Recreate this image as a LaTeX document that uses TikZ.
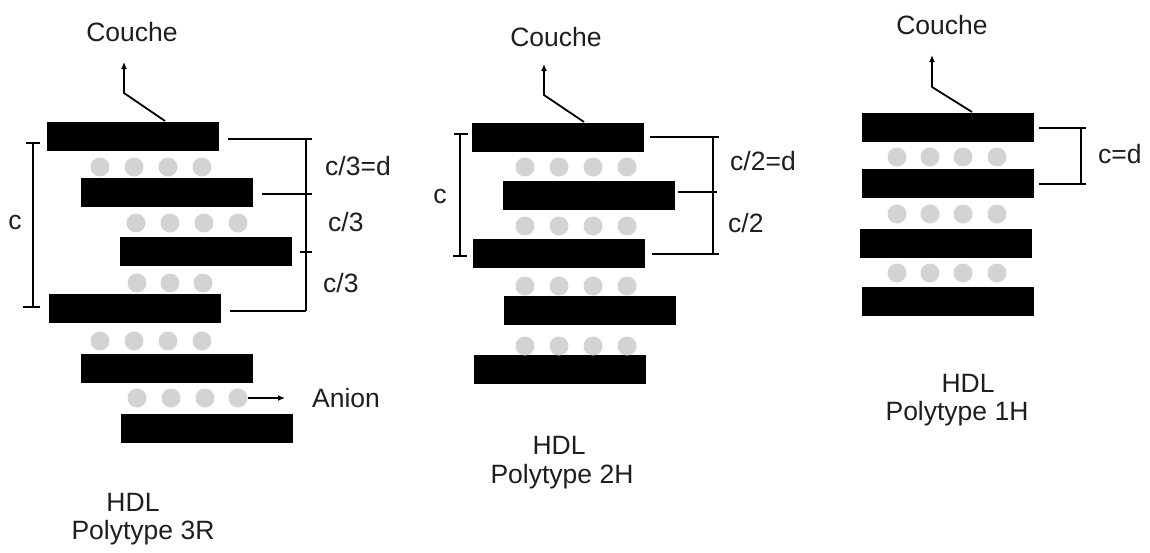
\documentclass[tikz,border=0pt]{standalone}
\usepackage{fontspec}
\setmainfont{Liberation Sans}
\usetikzlibrary{arrows.meta}
\definecolor{ioncol}{RGB}{211,211,211}
\definecolor{txtcol}{RGB}{30,30,30}
\tikzset{
  layerbox/.style={fill=black, inner sep=0pt, minimum width=172pt, minimum height=29pt},
  ion/.style={circle, fill=ioncol, inner sep=0pt, minimum size=19pt},
  lbl/.style={inner sep=0pt, text=txtcol, font=\fontsize{26.5}{30}\selectfont},
  dim/.style={line width=1.6pt, black},
  ptr/.style={line width=1.8pt, black, -{Latex[length=7pt,width=6pt]}},
}
\begin{document}
\begin{tikzpicture}[x=1pt,y=-1pt]
\useasboundingbox (0,0) rectangle (1150,552);

% ---------------- Column 1 : Polytype 3R ----------------
\node[layerbox] (a1) at (132.5,136) {};
\node[layerbox] (a2) at (166.5,192) {};
\node[layerbox] (a3) at (206,251) {};
\node[layerbox] (a4) at (134.5,308) {};
\node[layerbox] (a5) at (166.5,368.5) {};
\node[layerbox] (a6) at (207,428.5) {};
\foreach \x [count=\i] in {100,134,168,202} \node[ion] (ar1\i) at (\x,167) {};
\foreach \x [count=\i] in {136,170,204,238} \node[ion] (ar2\i) at (\x,223) {};
\foreach \x [count=\i] in {137,170,203} \node[ion] (ar3\i) at (\x,283) {};
\foreach \x [count=\i] in {100,134,168,202} \node[ion] (ar4\i) at (\x,341) {};
\foreach \x [count=\i] in {137,171,205,238} \node[ion] (ar5\i) at (\x,398) {};

\node[lbl] (acouche) at (132,32) {Couche};
\coordinate (aturn) at (124,93);
\coordinate (atop) at (165,121);
\draw[ptr] (atop) -- (aturn) -- (124,62);

\node[lbl, anchor=west] (anion) at (312,398) {Anion};
\draw[ptr] (ar54.east) -- (285,398);

% right dimension
\coordinate (ab1) at (306,139);
\coordinate (ab4) at (306,311);
\draw[dim] (228,139) -- (312,139);
\draw[dim] (ab1) -- (ab4);
\draw[dim] (262,194) -- (312,194);
\draw[dim] (300,252) -- (312,252);
\draw[dim] (230,311) -- (ab4);
\node[lbl, anchor=west] (ad1) at (325,166) {c/3=d};
\node[lbl, anchor=west] (ad2) at (328,222) {c/3};
\node[lbl, anchor=west] (ad3) at (323,283) {c/3};
% left dimension
\draw[dim] (33,143) -- (33,307);
\draw[dim] (26,143) -- (40,143);
\draw[dim] (23,307) -- (40,307);
\node[lbl] (ac) at (15,222) {c};

\node[lbl] (ahdl) at (133,502) {HDL};
\node[lbl] (apoly) at (143,533) {Polytype 3R};

% ---------------- Column 2 : Polytype 2H ----------------
\node[layerbox] (b1) at (557.5,137) {};
\node[layerbox] (b2) at (588.5,195.5) {};
\node[layerbox] (b3) at (559,253.5) {};
\node[layerbox] (b4) at (590,310) {};
\node[layerbox] (b5) at (560,369) {};
\foreach \y [count=\j] in {167,226,286,346}
  \foreach \x [count=\i] in {525,559,593,627} \node[ion] (br\j\i) at (\x,\y) {};

\node[lbl] (bcouche) at (556,37) {Couche};
\coordinate (bturn) at (544,95);
\coordinate (btop) at (584,122);
\draw[ptr] (btop) -- (bturn) -- (544,64);

\coordinate (bb1) at (713,137);
\coordinate (bb3) at (713,254);
\draw[dim] (650,137) -- (719,137);
\draw[dim] (bb1) -- (bb3);
\draw[dim] (678,192) -- (717,192);
\draw[dim] (652,254) -- (719,254);
\node[lbl, anchor=west] (bd1) at (730,161) {c/2=d};
\node[lbl, anchor=west] (bd2) at (728,223) {c/2};
\draw[dim] (460,134) -- (460,256);
\draw[dim] (454,134) -- (468,134);
\draw[dim] (453,256) -- (467,256);
\node[lbl] (bc) at (440,196) {c};

\node[lbl] (bhdl) at (559,445) {HDL};
\node[lbl] (bpoly) at (562,477) {Polytype 2H};

% ---------------- Column 3 : Polytype 1H ----------------
\node[layerbox] (c1) at (947.5,127) {};
\node[layerbox] (c2) at (947.5,183.5) {};
\node[layerbox] (c3) at (945.5,243) {};
\node[layerbox] (c4) at (947.5,301) {};
\foreach \y [count=\j] in {157,214,273}
  \foreach \x [count=\i] in {897,930,963,997} \node[ion] (cr\j\i) at (\x,\y) {};

\node[lbl] (ccouche) at (942,25) {Couche};
\coordinate (cturn) at (932,87);
\coordinate (ctop) at (972,112);
\draw[ptr] (ctop) -- (cturn) -- (932,55);

\draw[dim] (1039,128) -- (1086,128);
\draw[dim] (1081,128) -- (1081,184);
\draw[dim] (1039,184) -- (1086,184);
\node[lbl, anchor=west] (cd1) at (1098,154) {c=d};

\node[lbl] (chdl) at (968,383) {HDL};
\node[lbl] (cpoly) at (957,414) {Polytype 1H};
\end{tikzpicture}
\end{document}
